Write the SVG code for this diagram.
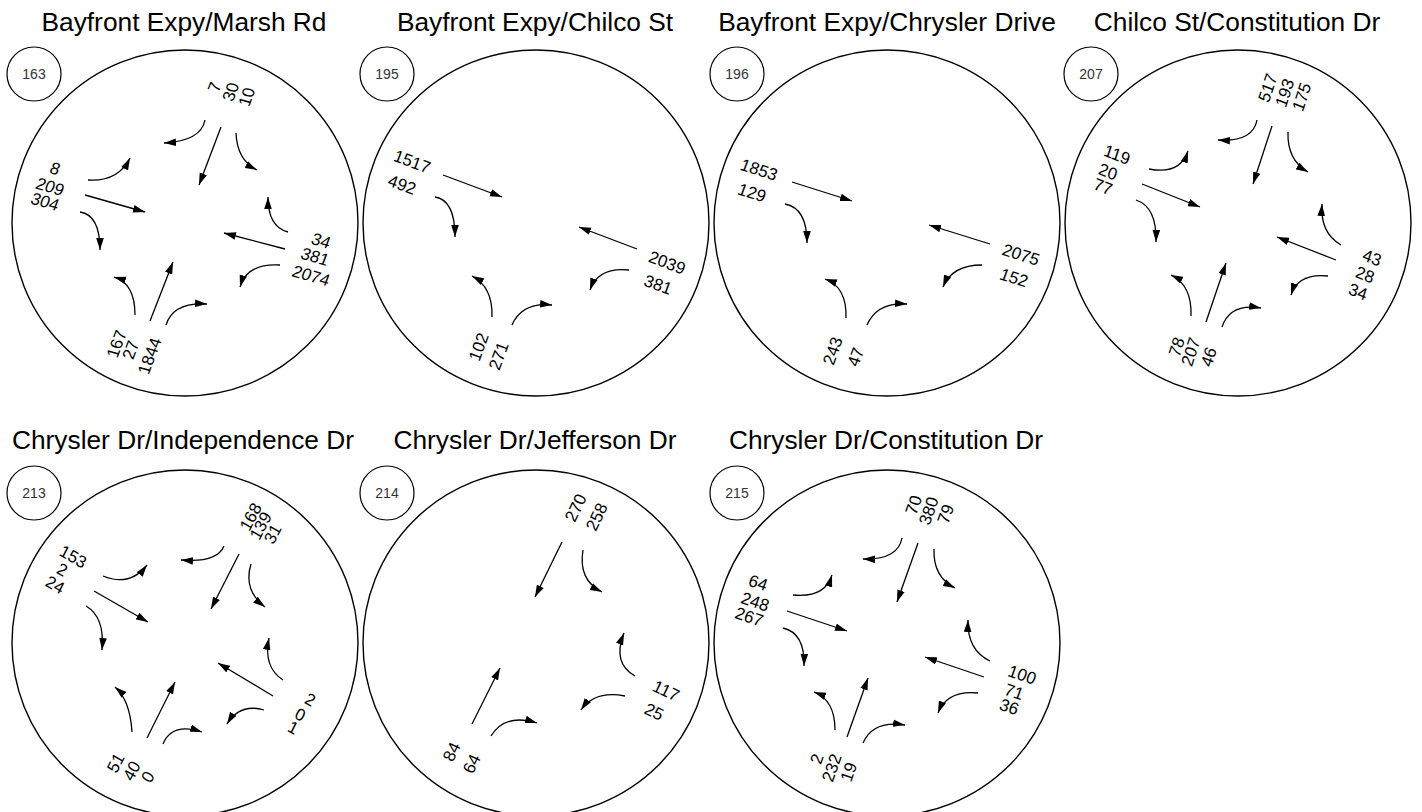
<svg xmlns="http://www.w3.org/2000/svg" width="1422" height="812" viewBox="0 0 1422 812">
<defs>
<marker id="ah" viewBox="0 0 12 8" refX="12" refY="4" markerWidth="12" markerHeight="8" markerUnits="userSpaceOnUse" orient="auto">
<path d="M0,0.2 L12,4 L0,7.8 z" fill="#000"/>
</marker>
</defs>
<style>
.t{font-family:"Liberation Sans",Arial,sans-serif;font-size:26.3px;text-anchor:middle;fill:#000}
.n{font-family:"Liberation Sans",Arial,sans-serif;font-size:17px;text-anchor:middle;dominant-baseline:central;fill:#000}
.id{font-family:"Liberation Sans",Arial,sans-serif;font-size:14px;text-anchor:middle;dominant-baseline:central;fill:#333}
.c{fill:none;stroke:#000;stroke-width:1.4}
.s{fill:none;stroke:#000;stroke-width:1.2}
.a{fill:none;stroke:#000;stroke-width:1.3;marker-end:url(#ah)}
</style>
<rect width="1422" height="812" fill="#fff"/>

<g id="p163">
<text class="t" x="184" y="31">Bayfront Expy/Marsh Rd</text>
<circle class="c" cx="185" cy="223" r="173"/>
<circle class="s" cx="34" cy="74" r="27"/>
<text class="id" x="34" y="74">163</text>
<g class="arrows">
<path class="a" d="M205,120 Q201,141 164,143"/>
<path class="a" d="M221,127 L199,185"/>
<path class="a" d="M236,133 Q237,160 257,170"/>
<path class="a" d="M88,180 Q118,182 130,158"/>
<path class="a" d="M85,195 L145,212"/>
<path class="a" d="M80,212 Q100,215 100,250"/>
<path class="a" d="M288,232 Q268,227 268,197"/>
<path class="a" d="M285,249 L224,233"/>
<path class="a" d="M280,265 Q247,263 240,287"/>
<path class="a" d="M135,315 Q135,283 114,277"/>
<path class="a" d="M150,321 L173,262"/>
<path class="a" d="M166,325 Q173,302 207,304"/>
</g>
<text class="n" transform="matrix(0.355 -0.935 0.962 0.272 215 87)">7</text>
<text class="n" transform="matrix(0.355 -0.935 0.962 0.272 231 92)">30</text>
<text class="n" transform="matrix(0.355 -0.935 0.962 0.272 247 97)">10</text>
<text class="n" transform="matrix(0.962 0.272 -0.355 0.935 55 169)">8</text>
<text class="n" transform="matrix(0.962 0.272 -0.355 0.935 50 187)">209</text>
<text class="n" transform="matrix(0.962 0.272 -0.355 0.935 45 202)">304</text>
<text class="n" transform="matrix(0.962 0.272 -0.355 0.935 321 241)">34</text>
<text class="n" transform="matrix(0.962 0.272 -0.355 0.935 315 257)">381</text>
<text class="n" transform="matrix(0.962 0.272 -0.355 0.935 311 276)">2074</text>
<text class="n" transform="matrix(0.355 -0.935 0.962 0.272 117 344)">167</text>
<text class="n" transform="matrix(0.355 -0.935 0.962 0.272 131 350)">27</text>
<text class="n" transform="matrix(0.355 -0.935 0.962 0.272 150 356)">1844</text>
</g>

<g id="p195">
<text class="t" x="535" y="31">Bayfront Expy/Chilco St</text>
<circle class="c" cx="536" cy="223" r="173"/>
<circle class="s" cx="387" cy="74" r="27"/>
<text class="id" x="387" y="74">195</text>
<g class="arrows">
<path class="a" d="M443,175 L502,197"/>
<path class="a" d="M435,197 Q455,200 455,237"/>
<path class="a" d="M637,249 L579,227"/>
<path class="a" d="M629,270 Q598,267 590,290"/>
<path class="a" d="M492,317 Q493,287 472,276"/>
<path class="a" d="M512,325 Q522,302 552,305"/>
</g>
<text class="n" transform="matrix(0.937 0.349 -0.342 0.940 412 162)">1517</text>
<text class="n" transform="matrix(0.937 0.349 -0.342 0.940 402 185)">492</text>
<text class="n" transform="matrix(0.937 0.349 -0.342 0.940 667 263)">2039</text>
<text class="n" transform="matrix(0.937 0.349 -0.342 0.940 658 285)">381</text>
<text class="n" transform="matrix(0.342 -0.940 0.937 0.349 479 347)">102</text>
<text class="n" transform="matrix(0.342 -0.940 0.937 0.349 499 356)">271</text>
</g>

<g id="p196">
<text class="t" x="887" y="31">Bayfront Expy/Chrysler Drive</text>
<circle class="c" cx="887" cy="223" r="173"/>
<circle class="s" cx="737" cy="74" r="27"/>
<text class="id" x="737" y="74">196</text>
<g class="arrows">
<path class="a" d="M792,182 L852,201"/>
<path class="a" d="M785,204 Q807,208 807,243"/>
<path class="a" d="M990,244 L929,225"/>
<path class="a" d="M982,265 Q952,265 943,287"/>
<path class="a" d="M846,318 Q847,287 825,279"/>
<path class="a" d="M867,325 Q877,302 907,304"/>
</g>
<text class="n" transform="matrix(0.953 0.302 -0.342 0.940 759 170)">1853</text>
<text class="n" transform="matrix(0.953 0.302 -0.342 0.940 752 193)">129</text>
<text class="n" transform="matrix(0.953 0.302 -0.342 0.940 1021 255)">2075</text>
<text class="n" transform="matrix(0.953 0.302 -0.342 0.940 1014 278)">152</text>
<text class="n" transform="matrix(0.342 -0.940 0.953 0.302 833 351)">243</text>
<text class="n" transform="matrix(0.342 -0.940 0.953 0.302 856 357)">47</text>
</g>

<g id="p207">
<text class="t" x="1237" y="31">Chilco St/Constitution Dr</text>
<circle class="c" cx="1238" cy="223" r="173"/>
<circle class="s" cx="1091" cy="74" r="27"/>
<text class="id" x="1091" y="74">207</text>
<g class="arrows">
<path class="a" d="M1257,120 Q1253,142 1218,140"/>
<path class="a" d="M1272,126 L1253,184"/>
<path class="a" d="M1288,132 Q1287,160 1308,172"/>
<path class="a" d="M1149,169 Q1180,175 1188,151"/>
<path class="a" d="M1142,184 L1200,207"/>
<path class="a" d="M1136,200 Q1157,207 1156,242"/>
<path class="a" d="M1341,245 Q1320,233 1322,204"/>
<path class="a" d="M1336,260 L1277,237"/>
<path class="a" d="M1328,276 Q1298,273 1291,295"/>
<path class="a" d="M1191,316 Q1192,285 1171,275"/>
<path class="a" d="M1206,322 L1226,263"/>
<path class="a" d="M1222,327 Q1230,303 1261,308"/>
</g>
<text class="n" transform="matrix(0.311 -0.951 0.930 0.368 1268 88)">517</text>
<text class="n" transform="matrix(0.311 -0.951 0.930 0.368 1285 93)">193</text>
<text class="n" transform="matrix(0.311 -0.951 0.930 0.368 1302 97)">175</text>
<text class="n" transform="matrix(0.930 0.368 -0.311 0.951 1117 155)">119</text>
<text class="n" transform="matrix(0.930 0.368 -0.311 0.951 1108 172)">20</text>
<text class="n" transform="matrix(0.930 0.368 -0.311 0.951 1103 187)">77</text>
<text class="n" transform="matrix(0.930 0.368 -0.311 0.951 1372 258)">43</text>
<text class="n" transform="matrix(0.930 0.368 -0.311 0.951 1365 275)">28</text>
<text class="n" transform="matrix(0.930 0.368 -0.311 0.951 1358 292)">34</text>
<text class="n" transform="matrix(0.311 -0.951 0.930 0.368 1177 347)">78</text>
<text class="n" transform="matrix(0.311 -0.951 0.930 0.368 1191 352)">207</text>
<text class="n" transform="matrix(0.311 -0.951 0.930 0.368 1209 357)">46</text>
</g>

<g id="p213">
<text class="t" x="183" y="449">Chrysler Dr/Independence Dr</text>
<circle class="c" cx="185" cy="643" r="173"/>
<circle class="s" cx="34" cy="493" r="27"/>
<text class="id" x="34" y="493">213</text>
<g class="arrows">
<path class="a" d="M224,546 Q217,563 181,560"/>
<path class="a" d="M239,554 L211,609"/>
<path class="a" d="M251,564 Q243,590 265,607"/>
<path class="a" d="M103,576 Q130,587 147,565"/>
<path class="a" d="M94,591 L148,622"/>
<path class="a" d="M86,606 Q105,617 102,650"/>
<path class="a" d="M283,680 Q263,667 269,638"/>
<path class="a" d="M273,696 L218,663"/>
<path class="a" d="M264,710 Q240,703 227,724"/>
<path class="a" d="M132,732 Q130,700 115,687"/>
<path class="a" d="M147,738 L175,682"/>
<path class="a" d="M163,744 Q172,722 202,732"/>
</g>
<text class="n" transform="matrix(0.454 -0.891 0.867 0.498 251 517)">168</text>
<text class="n" transform="matrix(0.454 -0.891 0.867 0.498 261 526)">139</text>
<text class="n" transform="matrix(0.454 -0.891 0.867 0.498 273 534)">31</text>
<text class="n" transform="matrix(0.867 0.498 -0.454 0.891 73 557)">153</text>
<text class="n" transform="matrix(0.867 0.498 -0.454 0.891 62 570)">2</text>
<text class="n" transform="matrix(0.867 0.498 -0.454 0.891 55 585)">24</text>
<text class="n" transform="matrix(0.867 0.498 -0.454 0.891 310 700)">2</text>
<text class="n" transform="matrix(0.867 0.498 -0.454 0.891 300 715)">0</text>
<text class="n" transform="matrix(0.867 0.498 -0.454 0.891 293 728)">1</text>
<text class="n" transform="matrix(0.454 -0.891 0.867 0.498 116 763)">51</text>
<text class="n" transform="matrix(0.454 -0.891 0.867 0.498 132 771)">40</text>
<text class="n" transform="matrix(0.454 -0.891 0.867 0.498 148 777)">0</text>
</g>

<g id="p214">
<text class="t" x="535" y="449">Chrysler Dr/Jefferson Dr</text>
<circle class="c" cx="536" cy="643" r="173"/>
<circle class="s" cx="387" cy="493" r="27"/>
<text class="id" x="387" y="493">214</text>
<g class="arrows">
<path class="a" d="M562,542 L535,597"/>
<path class="a" d="M583,550 Q578,580 602,592"/>
<path class="a" d="M635,676 Q612,663 624,633"/>
<path class="a" d="M625,696 Q595,690 581,710"/>
<path class="a" d="M472,724 L500,668"/>
<path class="a" d="M491,736 Q505,713 537,723"/>
</g>
<text class="n" transform="matrix(0.438 -0.899 0.906 0.423 576 508)">270</text>
<text class="n" transform="matrix(0.438 -0.899 0.906 0.423 597 517)">258</text>
<text class="n" transform="matrix(0.906 0.423 -0.438 0.899 666 691)">117</text>
<text class="n" transform="matrix(0.906 0.423 -0.438 0.899 654 712)">25</text>
<text class="n" transform="matrix(0.438 -0.899 0.906 0.423 452 752)">84</text>
<text class="n" transform="matrix(0.438 -0.899 0.906 0.423 472 764)">64</text>
</g>

<g id="p215">
<text class="t" x="886" y="449">Chrysler Dr/Constitution Dr</text>
<circle class="c" cx="887" cy="643" r="173"/>
<circle class="s" cx="737" cy="493" r="27"/>
<text class="id" x="737" y="493">215</text>
<g class="arrows">
<path class="a" d="M902,538 Q898,560 863,559"/>
<path class="a" d="M918,543 L897,602"/>
<path class="a" d="M934,549 Q933,577 955,588"/>
<path class="a" d="M793,595 Q825,598 832,575"/>
<path class="a" d="M787,611 L847,631"/>
<path class="a" d="M783,628 Q805,633 804,666"/>
<path class="a" d="M990,661 Q967,650 968,620"/>
<path class="a" d="M984,677 L925,657"/>
<path class="a" d="M978,693 Q947,690 938,713"/>
<path class="a" d="M835,730 Q835,700 814,692"/>
<path class="a" d="M847,737 L868,678"/>
<path class="a" d="M863,743 Q873,720 905,725"/>
</g>
<text class="n" transform="matrix(0.335 -0.942 0.949 0.316 914 505)">70</text>
<text class="n" transform="matrix(0.335 -0.942 0.949 0.316 929 511)">380</text>
<text class="n" transform="matrix(0.335 -0.942 0.949 0.316 946 514)">79</text>
<text class="n" transform="matrix(0.949 0.316 -0.335 0.942 758 583)">64</text>
<text class="n" transform="matrix(0.949 0.316 -0.335 0.942 755 602)">248</text>
<text class="n" transform="matrix(0.949 0.316 -0.335 0.942 749 617)">267</text>
<text class="n" transform="matrix(0.949 0.316 -0.335 0.942 1022 675)">100</text>
<text class="n" transform="matrix(0.949 0.316 -0.335 0.942 1014 692)">71</text>
<text class="n" transform="matrix(0.949 0.316 -0.335 0.942 1009 707)">36</text>
<text class="n" transform="matrix(0.335 -0.942 0.949 0.316 817 759)">2</text>
<text class="n" transform="matrix(0.335 -0.942 0.949 0.316 832 768)">232</text>
<text class="n" transform="matrix(0.335 -0.942 0.949 0.316 849 772)">19</text>
</g>
</svg>
